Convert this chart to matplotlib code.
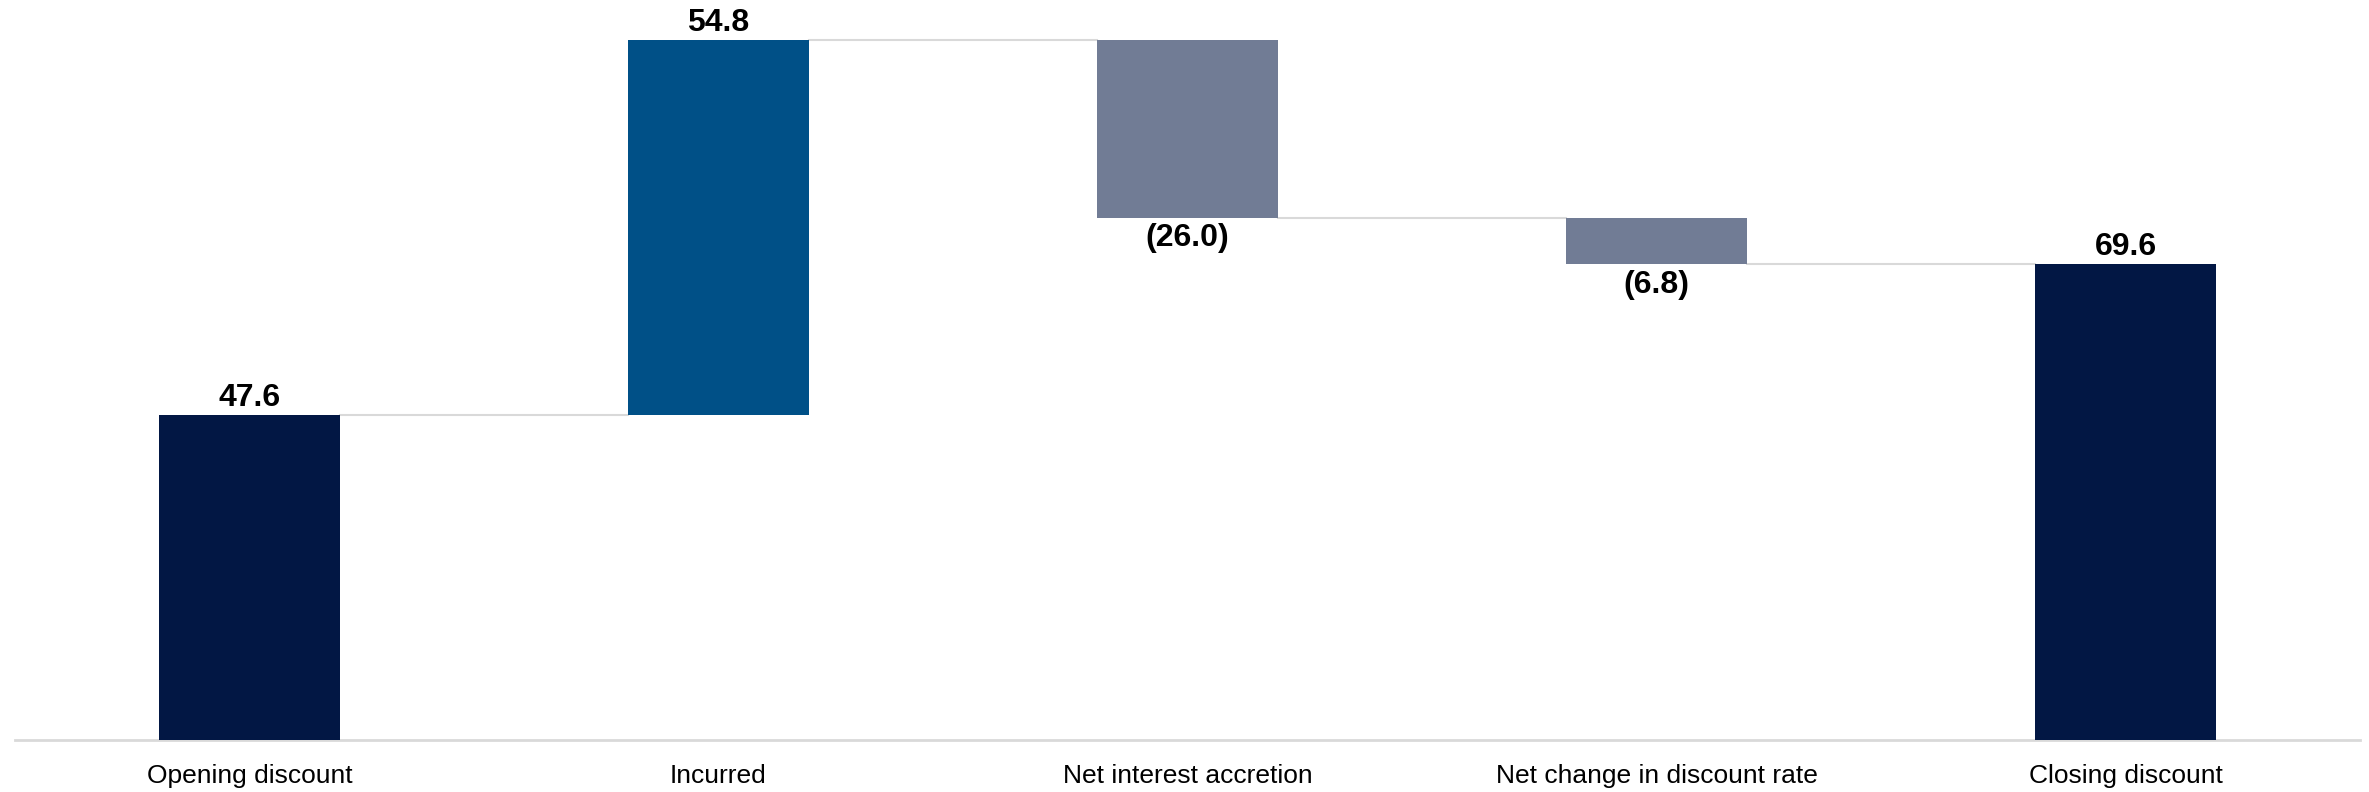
import matplotlib.pyplot as plt

categories = ["Opening discount", "Incurred", "Net interest accretion",
              "Net change in discount rate", "Closing discount"]
changes = [47.6, 54.8, -26.0, -6.8]
closing = 69.6
labels = ["47.6", "54.8", "(26.0)", "(6.8)", "69.6"]

total_color = "#021744"
up_color = "#005087"
down_color = "#717C95"
line_color = "#D9D9D9"

plt.rcParams["font.family"] = ["Liberation Sans", "DejaVu Sans"]

fig = plt.figure(figsize=(23.69, 7.92), dpi=100)
ax = fig.add_axes([15 / 2369, 52 / 792, 2345 / 2369, 740 / 792])

width = 0.385
running = 0.0
bottoms, heights, colors = [], [], []
for i, c in enumerate(changes):
    if i == 0:
        bottoms.append(0)
        heights.append(c)
        colors.append(total_color)
    elif c >= 0:
        bottoms.append(running)
        heights.append(c)
        colors.append(up_color)
    else:
        bottoms.append(running + c)
        heights.append(-c)
        colors.append(down_color)
    running += c
bottoms.append(0)
heights.append(closing)
colors.append(total_color)

xs = range(len(categories))
ax.bar(xs, heights, bottom=bottoms, width=width, color=colors, zorder=3)

# connectors between consecutive bars
level = 0.0
for i, c in enumerate(changes):
    level += c
    ax.plot([i + width / 2, i + 1 - width / 2], [level, level],
            color=line_color, lw=1.5, zorder=2)

# value labels
label_kw = dict(ha="center", fontsize=23, fontweight="bold")
level = 0.0
for i, c in enumerate(changes):
    if c >= 0:
        ax.text(i, level + c + 0.3, labels[i], va="bottom", **label_kw)
    else:
        ax.text(i, level + c - 0.8, labels[i], va="top", **label_kw)
    level += c
ax.text(4, closing + 0.3, labels[4], va="bottom", **label_kw)

ax.set_xlim(-0.5, 4.5)
ax.set_ylim(0, 108.3)
ax.set_xticks(list(xs))
ax.set_xticklabels(categories, fontsize=19)
ax.tick_params(axis="x", length=0, pad=17)
ax.set_yticks([])
for side in ["top", "right", "left"]:
    ax.spines[side].set_visible(False)
ax.spines["bottom"].set_color(line_color)
ax.spines["bottom"].set_linewidth(2)

fig.savefig("out.png", dpi=100)
